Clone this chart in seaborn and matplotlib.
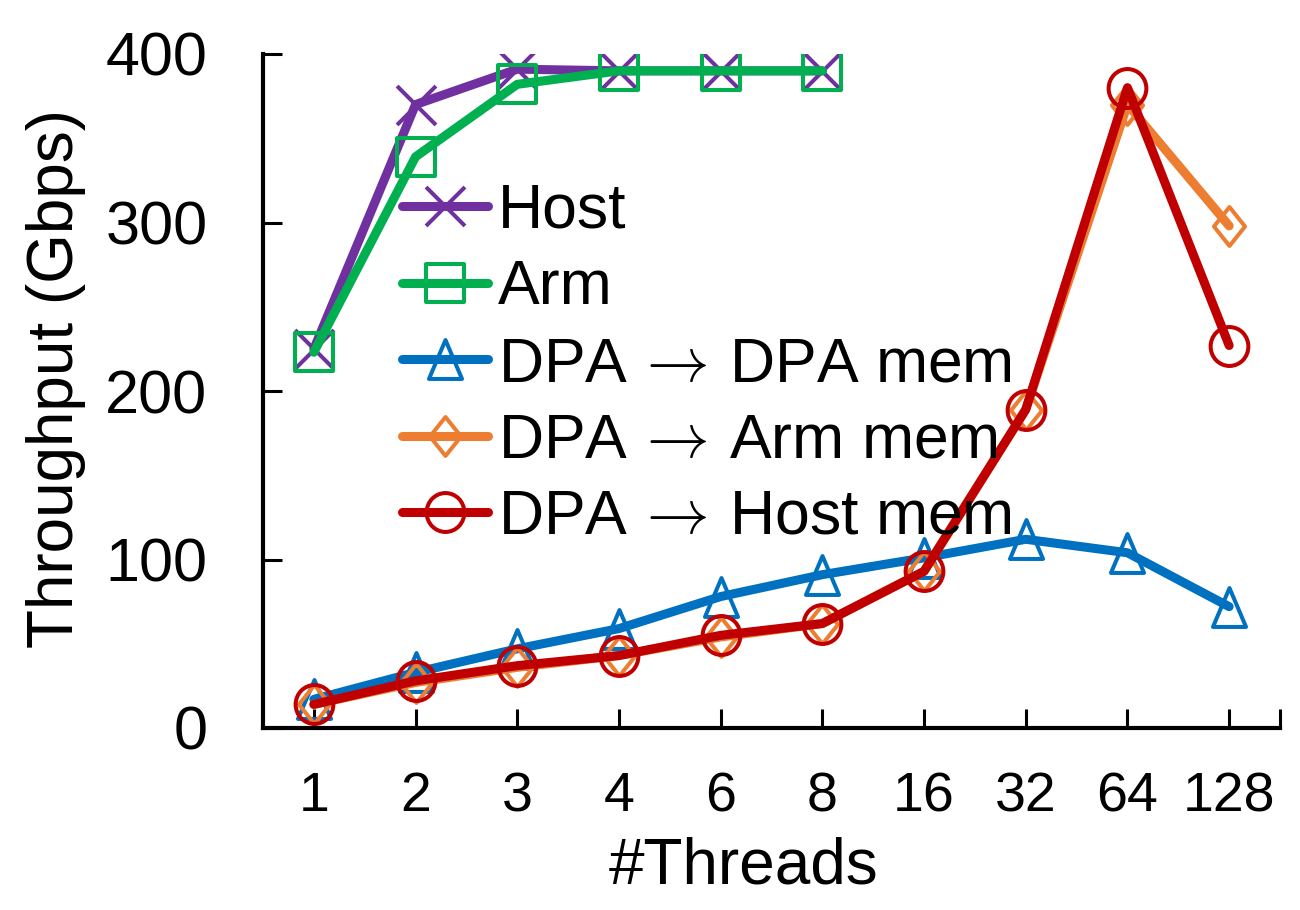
import numpy as np
import pandas as pd
import matplotlib
matplotlib.use("Agg")
import matplotlib.pyplot as plt
from matplotlib.path import Path
import seaborn as sns

# data
threads = ["1", "2", "3", "4", "6", "8", "16", "32", "64", "128"]
host = [225, 370, 391, 390, 390, 390]
arm = [223, 339, 382, 390, 390, 390]
dpa_dpa_mem = [17, 33, 47, 59, 78, 91, 101, 112, 104, 72]
dpa_arm_mem = [14, 27, 36, 43, 54, 62, 93, 189, 370, 298]
dpa_host_mem = [14, 28, 37, 43, 55, 62, 93, 189, 380, 227]
y_ticks = [0, 100, 200, 300, 400]

sns.set_theme(style="white")
plt.rcParams["font.family"] = ["Liberation Sans", "DejaVu Sans"]
plt.rcParams["mathtext.fontset"] = "cm"
for key in ["text.color", "axes.labelcolor", "xtick.color", "ytick.color"]:
    plt.rcParams[key] = "black"


def marker(verts, codes, xs=1.0):
    v = np.asarray(verts, dtype=float) * [xs, 1.0]
    return Path(v, codes)


circle_path = Path.unit_circle()
MARK_O = marker(circle_path.vertices, circle_path.codes, 0.97)
MARK_S = marker([(-1, -1), (1, -1), (1, 1), (-1, 1), (-1, -1)],
                [Path.MOVETO, Path.LINETO, Path.LINETO, Path.LINETO, Path.CLOSEPOLY], 1.0)
MARK_T = marker([(0, 1), (-1, -1), (1, -1), (0, 1)],
                [Path.MOVETO, Path.LINETO, Path.LINETO, Path.CLOSEPOLY], 0.85)
MARK_D = marker([(0, 1), (-1, 0), (0, -1), (1, 0), (0, 1)],
                [Path.MOVETO, Path.LINETO, Path.LINETO, Path.LINETO, Path.CLOSEPOLY], 0.8)
MARK_X = marker([(-1, -1), (1, 1), (-1, 1), (1, -1)],
                [Path.MOVETO, Path.LINETO, Path.MOVETO, Path.LINETO], 1.0)

ARROW = "$\\,\\rightarrow\\,$"
series = [
    ("Host", host, "#7030A0", MARK_X),
    ("Arm", arm, "#00B050", MARK_S),
    ("DPA" + ARROW + "DPA mem", dpa_dpa_mem, "#0070C0", MARK_T),
    ("DPA" + ARROW + "Arm mem", dpa_arm_mem, "#ED7D31", MARK_D),
    ("DPA" + ARROW + "Host mem", dpa_host_mem, "#C00000", MARK_O),
]

fig = plt.figure(figsize=(13, 9.1), dpi=100)
ax = fig.add_axes([263 / 1300, 1 - 728 / 910, 1017 / 1300, 674 / 910])

for name, vals, color, mk in series:
    df = pd.DataFrame({"threads": threads[:len(vals)], "gbps": vals})
    sns.lineplot(data=df, x="threads", y="gbps", ax=ax, label=name,
                 color=color, linewidth=6.5, marker=mk, markersize=28,
                 markerfacecolor="none", markeredgecolor=color,
                 markeredgewidth=2.9, sort=False,
                 solid_joinstyle="round", solid_capstyle="round")

ax.set_xlim(-0.5, len(threads) - 0.5)
ax.set_ylim(0, 400)
ax.set_yticks(y_ticks)
ax.set_xticks(np.arange(len(threads)))
ax.set_xticklabels(threads)
ax.set_xticks([len(threads) - 0.5], minor=True)

for s in ["top", "right"]:
    ax.spines[s].set_visible(False)
for s in ["left", "bottom"]:
    ax.spines[s].set_color("black")
    ax.spines[s].set_linewidth(3)

ax.tick_params(axis="both", which="both", direction="in", length=14,
               width=2.2, color="black", bottom=True, left=True)
ax.tick_params(axis="x", labelsize=40, pad=31)
ax.tick_params(axis="y", labelsize=44, pad=40)

ax.set_xlabel("#Threads", fontsize=46)
ax.set_ylabel("Throughput (Gbps)", fontsize=46)
ax.xaxis.set_label_coords((744 - 263) / 1017, (728 - 836) / 674)
ax.yaxis.set_label_coords((86 - 263) / 1017, (728 - 378) / 674)

leg = ax.legend(loc="upper left", bbox_to_anchor=(402 / 1300, 1 - 182 / 910),
                bbox_transform=fig.transFigure, frameon=False, fontsize=45,
                handlelength=1.37, handletextpad=0.16, labelspacing=0.28,
                borderpad=0, borderaxespad=0)

fig.savefig("out.png", dpi=100)
